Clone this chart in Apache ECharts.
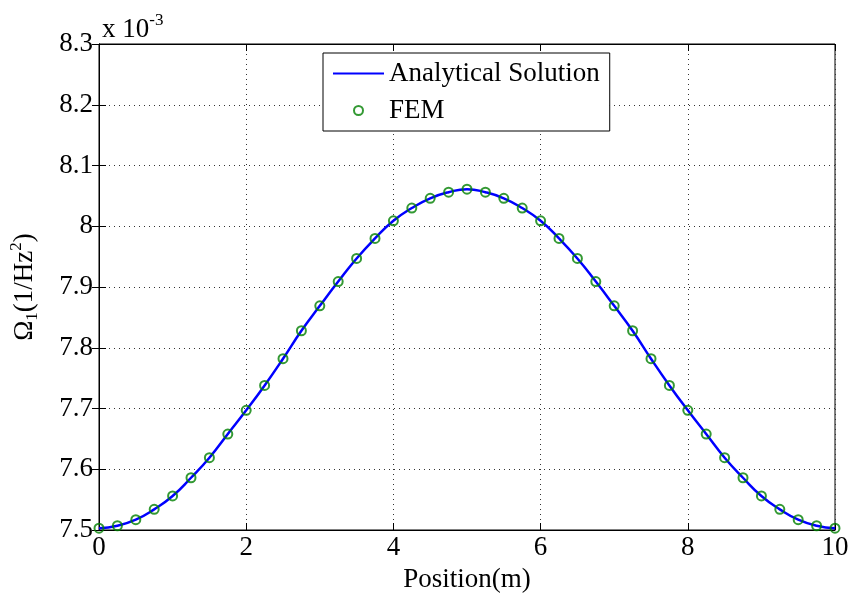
<!DOCTYPE html>
<html>
<head>
<meta charset="utf-8">
<script src="https://cdn.jsdelivr.net/npm/echarts@6/dist/echarts.min.js"></script>
<style>html,body{margin:0;padding:0;background:#fff}#c{width:852px;height:600px}</style>
</head>
<body>
<div id="c"></div>
<script>
// Positions along the beam (m)
var positions = [0,0.25,0.5,0.75,1,1.25,1.5,1.75,2,2.25,2.5,2.75,3,3.25,3.5,3.75,4,4.25,4.5,4.75,5,
                 5.25,5.5,5.75,6,6.25,6.5,6.75,7,7.25,7.5,7.75,8,8.25,8.5,8.75,9,9.25,9.5,9.75,10];
// Omega_1 values (x 10^-3, 1/Hz^2)
var analytical = [7.503,7.507,7.517,7.534,7.556,7.586,7.619,7.658,7.697,7.738,7.782,7.828,7.869,7.909,7.947,7.980,8.009,8.030,8.046,8.056,8.061,
                  8.056,8.046,8.030,8.009,7.980,7.947,7.909,7.869,7.828,7.782,7.738,7.697,7.658,7.619,7.586,7.556,7.534,7.517,7.507,7.503];
var fem = [7.503,7.507,7.517,7.534,7.556,7.586,7.619,7.658,7.697,7.738,7.782,7.828,7.869,7.909,7.947,7.980,8.009,8.030,8.046,8.056,8.061,
           8.056,8.046,8.030,8.009,7.980,7.947,7.909,7.869,7.828,7.782,7.738,7.697,7.658,7.619,7.586,7.556,7.534,7.517,7.507,7.503];
var xTicks = [0,2,4,6,8,10];
var yTicks = [7.5,7.6,7.7,7.8,7.9,8,8.1,8.2,8.3];

var FONT = '"Liberation Serif","Times New Roman",serif';
var FS = 27;
function pairs(xs, ys){ return xs.map(function(x,i){ return [x, ys[i]]; }); }

var chart = echarts.init(document.getElementById('c'), null, {renderer:'canvas'});
var gridLine = {show:true, lineStyle:{color:'#333', type:[1,4], width:1}};
chart.setOption({
  animation:false,
  backgroundColor:'#fff',
  title:{
    left:97, top:7,
    text:'{a|x 10}{b|-3}',
    textStyle:{fontWeight:'normal', rich:{
      a:{fontFamily:FONT, fontSize:FS, fontWeight:'normal', color:'#000', verticalAlign:'bottom'},
      b:{fontFamily:FONT, fontSize:17, fontWeight:'normal', color:'#000', verticalAlign:'top', padding:[0,0,14,0]}
    }}
  },
  grid:{left:98, right:17, top:44, bottom:70, show:true, borderColor:'#000', borderWidth:1, backgroundColor:'#fff'},
  legend:{
    orient:'vertical', left:323, top:53,
    padding:[7,10,7,9], itemGap:10, itemWidth:51, itemHeight:9,
    backgroundColor:'#fff', borderColor:'#000', borderWidth:1, borderRadius:0,
    textStyle:{fontFamily:FONT, fontSize:FS, color:'#000', lineHeight:26},
    data:[{name:'Analytical Solution', itemStyle:{opacity:0}},{name:'FEM'}]
  },
  xAxis:[{
    type:'value', min:xTicks[0], max:xTicks[xTicks.length-1], interval:2,
    name:'Position(m)', nameLocation:'middle', nameGap:36,
    nameTextStyle:{fontFamily:FONT, fontSize:FS, color:'#000'},
    axisLine:{show:true, lineStyle:{color:'#000', width:1}},
    axisTick:{show:true, inside:true, length:7, lineStyle:{color:'#000'}},
    axisLabel:{fontFamily:FONT, fontSize:FS, color:'#000', margin:4},
    splitLine:gridLine
  },{
    type:'value', position:'top', min:xTicks[0], max:xTicks[xTicks.length-1], interval:2,
    axisLine:{show:true, lineStyle:{color:'#000'}},
    axisTick:{show:true, inside:true, length:7, lineStyle:{color:'#000'}},
    axisLabel:{show:false}, splitLine:{show:false}
  }],
  yAxis:[{
    type:'value', min:yTicks[0], max:yTicks[yTicks.length-1], interval:0.1,
    name:'{o|Ω}{s|1}{t|(1/Hz}{p|2}{t|)}', nameLocation:'middle', nameGap:58, nameRotate:90,
    nameTextStyle:{rich:{
      o:{fontFamily:FONT, fontSize:FS, color:'#000'},
      t:{fontFamily:FONT, fontSize:FS, color:'#000'},
      s:{fontFamily:FONT, fontSize:17, color:'#000', verticalAlign:'bottom', padding:[16,0,0,0]},
      p:{fontFamily:FONT, fontSize:17, color:'#000', verticalAlign:'top', padding:[0,0,12,0]}
    }},
    axisLine:{show:true, lineStyle:{color:'#000', width:1}},
    axisTick:{show:true, inside:true, length:7, lineStyle:{color:'#000'}},
    axisLabel:{fontFamily:FONT, fontSize:FS, color:'#000', margin:6,
      formatter:function(v){ return String(Math.round(v*10)/10); }},
    splitLine:gridLine
  },{
    type:'value', position:'right', min:yTicks[0], max:yTicks[yTicks.length-1], interval:0.1,
    axisLine:{show:true, lineStyle:{color:'#000'}},
    axisTick:{show:true, inside:true, length:7, lineStyle:{color:'#000'}},
    axisLabel:{show:false}, splitLine:{show:false}
  }],
  series:[{
    name:'Analytical Solution', type:'line', smooth:true, symbol:'none',
    xAxisIndex:0, yAxisIndex:0,
    lineStyle:{color:'#0000ff', width:2.5}, itemStyle:{color:'#0000ff'},
    data:pairs(positions, analytical), z:2
  },{
    name:'FEM', type:'scatter', symbol:'circle', symbolSize:9,
    xAxisIndex:0, yAxisIndex:0,
    itemStyle:{color:'rgba(0,0,0,0)', borderColor:'#008000', borderWidth:2},
    data:pairs(positions, fem), z:3
  }]
});
</script>
</body>
</html>
